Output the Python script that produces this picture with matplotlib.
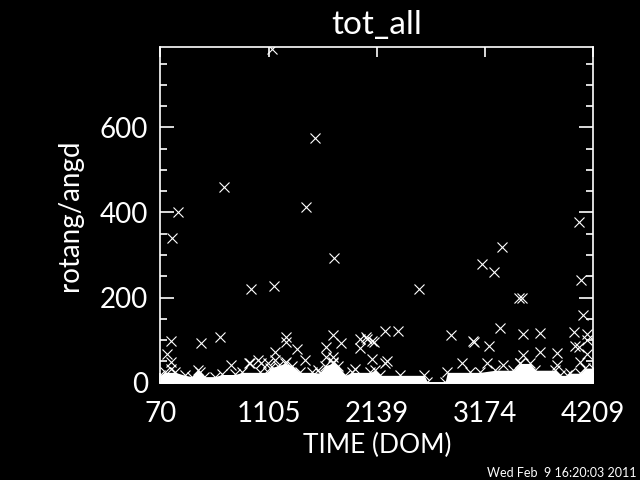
import numpy as np
import matplotlib
matplotlib.use("Agg")
import matplotlib.pyplot as plt
from matplotlib.ticker import FixedLocator, MultipleLocator

# scattered points (DOM, rotang/angd)
dom = [1138, 1550, 1461, 676, 239, 182, 1729, 935, 1161, 2538,
       4069, 3332, 3141, 3255, 3495, 3527, 4094, 4111,
       2213, 2341, 2111, 2851, 3060, 3068, 3208, 3320, 3533, 3695,
       4021, 4149, 4149, 3696, 3862, 4037, 4069, 4149, 3533, 3511,
       3192, 3350, 3862, 4085, 2044, 2092, 2092, 2239, 2222, 2956,
       170, 462, 638, 134, 170, 175, 743, 447, 916, 1005, 1036,
       1272, 1272, 1375, 1454, 1167, 1167, 1270, 1725, 1794, 1655,
       1655, 1725, 1725, 1974, 2038, 1980, 1581, 1933, 1103, 928]
rot = [785, 575, 412, 459, 400, 339, 292, 219, 228, 221,
       378, 318, 278, 260, 200, 200, 241, 158,
       121, 121, 95, 113, 98, 96, 86, 129, 114, 117,
       119, 115, 99, 72, 70, 85, 84, 68, 64, 45,
       45, 41, 41, 48, 103, 98, 56, 51, 45, 45,
       98, 93, 106, 67, 48, 33, 41, 25, 46, 52, 45,
       107, 95, 80, 52, 72, 52, 48, 113, 94, 84,
       60, 60, 48, 103, 106, 82, 29, 31, 45, 45]

# top edge of the dense band of points near zero
band_dom = [70, 115, 211, 306, 373, 431, 488, 593, 660, 785, 852, 1024,
            1100, 1119, 1196, 1263, 1330, 1406, 1521, 1598, 1646, 1722,
            1770, 1837, 1904, 2076, 2124, 2172, 2363, 2593, 2621, 2793,
            2813, 3033, 3128, 3272, 3444, 3511, 3607, 3654, 3846, 3894,
            3960, 3989, 4085, 4133, 4209]
band_top = [17, 24, 24, 17, 14, 29, 14, 14, 19, 19, 24, 24,
            24, 34, 40, 45, 40, 24, 24, 22, 40, 45,
            40, 17, 24, 24, 29, 17, 17, 17, 2, 2,
            24, 24, 24, 29, 29, 45, 45, 29, 29, 17,
            17, 22, 22, 34, 34]

xticks = [70, 1105, 2139, 3174, 4209]

fg = "white"
plt.rcParams["font.family"] = ["Lato", "DejaVu Sans"]

fig = plt.figure(figsize=(6.4, 4.8), dpi=100, facecolor="black")
ax = fig.add_axes([0.2505, 0.2021, 0.6766, 0.7000])
ax.set_facecolor("black")

ax.fill_between(band_dom, -2, band_top, color=fg, lw=0)
ax.plot(band_dom, band_top, ls="none", marker="x", ms=7, mew=0.8, color=fg)
ax.plot(dom, rot, ls="none", marker="x", ms=7, mew=0.8, color=fg)

ax.set_xlim(70, 4209)
ax.set_ylim(-1, 789)
ax.xaxis.set_major_locator(FixedLocator(xticks))
ax.set_xticklabels([str(t) for t in xticks])
ax.yaxis.set_major_locator(MultipleLocator(200))
ax.yaxis.set_minor_locator(MultipleLocator(50))

for s in ax.spines.values():
    s.set_color(fg)
    s.set_linewidth(1.2)
ax.tick_params(axis="both", which="both", direction="in", colors=fg,
               top=True, right=True, width=1.2)
ax.tick_params(axis="x", which="major", length=7, pad=13, labelsize=20)
ax.tick_params(axis="y", which="major", length=10, pad=9, labelsize=20)
ax.tick_params(axis="y", which="minor", length=5)

ax.set_title("tot_all", color=fg, fontsize=24, pad=9)
ax.set_xlabel("TIME (DOM)", color=fg, fontsize=19, labelpad=4)
ax.set_ylabel("rotang/angd", color=fg, fontsize=20, labelpad=12)

fig.text(0.995, 0.003, "Wed Feb  9 16:20:03 2011", color=fg, fontsize=9,
         ha="right", va="bottom")

fig.savefig("out.png", dpi=100, facecolor="black")
